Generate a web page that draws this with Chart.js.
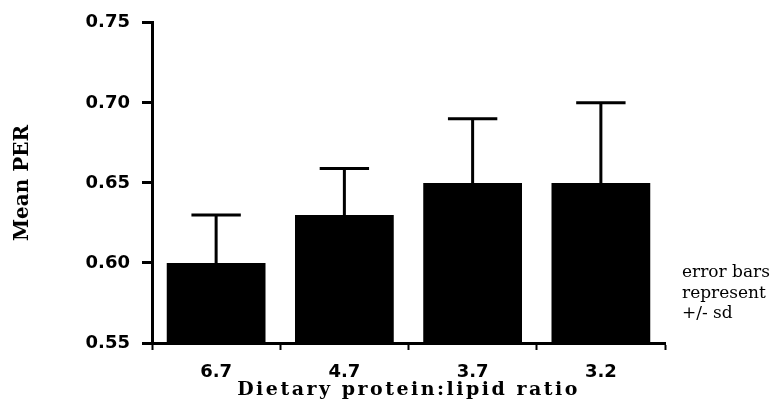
<!DOCTYPE html>
<html>
<head>
<meta charset="utf-8">
<script src="https://cdn.jsdelivr.net/npm/chart.js@4.4.1/dist/chart.umd.min.js"></script>
<style>
  html, body { margin: 0; padding: 0; background: #fff; }
  #wrap { width: 771px; height: 413px; position: relative; }
</style>
</head>
<body>
<div id="wrap"><canvas id="perChart"></canvas></div>
<script>
// данные графика
const ratios = ['6.7', '4.7', '3.7', '3.2'];
const meanPER = [0.60, 0.63, 0.65, 0.65];
const sdPER = [0.03, 0.029, 0.04, 0.05];
const noteLines = ['error bars', 'represent', '+/- sd'];

// усы ошибок только вверх, как на оригинале
const errorBars = {
    id: 'errorBars',
    afterDatasetsDraw(chart) {
        const ctx = chart.ctx;
        const meta = chart.getDatasetMeta(0);
        const y = chart.scales.y;
        ctx.save();
        ctx.strokeStyle = '#000';
        ctx.lineWidth = 3;
        meta.data.forEach((bar, i) => {
            const top = y.getPixelForValue(meanPER[i] + sdPER[i]);
            const half = bar.width / 4;
            ctx.beginPath();
            ctx.moveTo(bar.x, bar.y);
            ctx.lineTo(bar.x, top);
            ctx.moveTo(bar.x - half, top);
            ctx.lineTo(bar.x + half, top);
            ctx.stroke();
        });
        ctx.restore();
    }
};

// разреженный заголовок оси X
const spacedTitle = {
    id: 'spacedTitle',
    beforeDraw(chart) {
        const s = chart.scales.x;
        if (s._spaced) return;
        const orig = s.drawTitle.bind(s);
        s.drawTitle = function () {
            chart.ctx.save();
            chart.ctx.letterSpacing = '2.5px';
            orig();
            chart.ctx.restore();
        };
        s._spaced = true;
    }
};

// подпись справа
const sideNote = {
    id: 'sideNote',
    afterDraw(chart) {
        const ctx = chart.ctx;
        const x = chart.chartArea.right + 17;
        ctx.save();
        ctx.fillStyle = '#000';
        ctx.font = '17px "DejaVu Serif"';
        ctx.textBaseline = 'alphabetic';
        noteLines.forEach((t, i) => ctx.fillText(t, x, 277 + i * 20.5));
        ctx.restore();
    }
};

new Chart(document.getElementById('perChart'), {
    type: 'bar',
    data: {
        labels: ratios,
        datasets: [{
            data: meanPER,
            backgroundColor: '#000',
            borderWidth: 0,
            barPercentage: 0.77,
            categoryPercentage: 1
        }]
    },
    options: {
        responsive: true,
        maintainAspectRatio: false,
        animation: false,
        layout: { padding: { left: 0, right: 106, top: 19, bottom: 0 } },
        plugins: {
            legend: { display: false },
            tooltip: { enabled: false }
        },
        scales: {
            x: {
                afterFit(scale) { scale.height = 70; },
                border: { display: true, color: '#000', width: 3 },
                grid: { drawOnChartArea: false, color: '#000', tickLength: 7, tickWidth: 2, offset: true },
                ticks: {
                    color: '#000',
                    padding: 12,
                    font: { family: '"DejaVu Sans"', size: 18, weight: 'bold' }
                },
                title: {
                    display: true,
                    text: 'Dietary protein:lipid ratio',
                    color: '#000',
                    padding: { top: 12, bottom: 12 },
                    font: { family: '"DejaVu Serif"', size: 19, weight: 'bold' }
                }
            },
            y: {
                min: 0.55,
                max: 0.75,
                afterFit(scale) { scale.width = 152; },
                border: { display: true, color: '#000', width: 3 },
                grid: { drawOnChartArea: false, color: '#000', tickLength: 10, tickWidth: 3 },
                ticks: {
                    stepSize: 0.05,
                    color: '#000',
                    padding: 12,
                    font: { family: '"DejaVu Sans"', size: 18, weight: 'bold' },
                    callback: v => v.toFixed(2)
                },
                title: {
                    display: true,
                    text: 'Mean PER',
                    color: '#000',
                    padding: { top: 11, bottom: 11 },
                    font: { family: '"DejaVu Serif"', size: 20, weight: 'bold' }
                }
            }
        }
    },
    plugins: [errorBars, spacedTitle, sideNote]
});
</script>
</body>
</html>
